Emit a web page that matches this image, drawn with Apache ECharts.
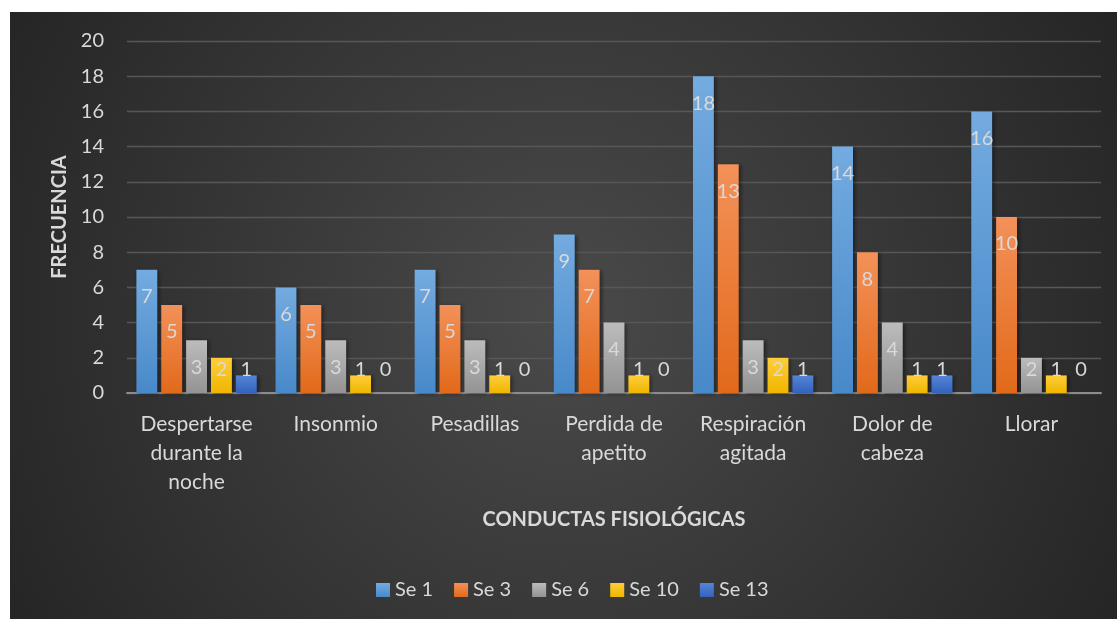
<!DOCTYPE html>
<html>
<head>
<meta charset="utf-8">
<script src="https://cdn.jsdelivr.net/npm/echarts@6/dist/echarts.min.js"></script>
<style>
  html, body { margin: 0; padding: 0; background: #ffffff; width: 1117px; height: 619px; overflow: hidden; }
  #chart { position: absolute; left: 10px; top: 12px; width: 1107px; height: 607px; }
</style>
</head>
<body>
<div id="chart"></div>
<script>
// Categories (conductas fisiológicas) and the frequency per session
const categories = [
  'Despertarse\ndurante la\nnoche',
  'Insonmio',
  'Pesadillas',
  'Perdida de\napetito',
  'Respiración\nagitada',
  'Dolor de\ncabeza',
  'Llorar'
];
const seriesNames = ['Se 1', 'Se 3', 'Se 6', 'Se 10', 'Se 13'];
const se1  = [7, 6, 7, 9, 18, 14, 16];
const se3  = [5, 5, 5, 7, 13, 8, 10];
const se6  = [3, 3, 3, 4, 3, 4, 2];
const se10 = [2, 1, 1, 1, 2, 1, 1];
const se13 = [1, 0, 0, 0, 1, 1, 0];
const yTicks = { min: 0, max: 20, interval: 2 };

// Vertical gradients for each series (light top, deeper bottom)
const palette = [
  ['#74abe0', '#4889c9'],
  ['#f39159', '#e2691a'],
  ['#bcbcbc', '#939393'],
  ['#ffcd3a', '#efb600'],
  ['#5585d6', '#3262bc']
];

const textColor = '#d9d9d9';
const fontFamily = 'Lato, "Open Sans", sans-serif';

function grad(c) {
  return new echarts.graphic.LinearGradient(0, 0, 0, 1, [
    { offset: 0, color: c[0] },
    { offset: 1, color: c[1] }
  ]);
}

// Labels sit just inside the top of the bar; short bars keep them at a fixed height above the base
function toData(values) {
  return values.map(v => v < 3
    ? { value: v, label: { position: 'insideBottom', distance: 13 } }
    : { value: v });
}

const allValues = [se1, se3, se6, se10, se13];

const chart = echarts.init(document.getElementById('chart'), null, { renderer: 'canvas' });

chart.setOption({
  animation: false,
  backgroundColor: new echarts.graphic.RadialGradient(0.5, 0.5, 1.05, [
    { offset: 0, color: '#4a4a4a' },
    { offset: 1, color: '#252525' }
  ]),
  textStyle: { fontFamily: fontFamily },
  grid: { left: 117, top: 29, width: 974, height: 352, containLabel: false },
  legend: {
    left: 361,
    top: 563,
    itemWidth: 14,
    itemHeight: 14,
    itemGap: 21,
    icon: 'rect',
    textStyle: { color: textColor, fontSize: 20, fontFamily: fontFamily },
    data: seriesNames
  },
  xAxis: {
    type: 'category',
    data: categories,
    name: 'CONDUCTAS FISIOLÓGICAS',
    nameLocation: 'middle',
    nameGap: 117,
    nameTextStyle: { color: textColor, fontSize: 20, fontWeight: 'bold', fontFamily: fontFamily },
    axisLine: { show: true, lineStyle: { color: '#8c8c8c', width: 2 } },
    axisTick: { show: false },
    axisLabel: {
      color: textColor,
      fontSize: 21,
      lineHeight: 29,
      margin: 17,
      interval: 0,
      fontFamily: fontFamily
    },
    splitLine: { show: false }
  },
  yAxis: {
    type: 'value',
    min: yTicks.min,
    max: yTicks.max,
    interval: yTicks.interval,
    name: 'FRECUENCIA',
    nameLocation: 'middle',
    nameGap: 57,
    nameTextStyle: { color: textColor, fontSize: 20, fontWeight: 'bold', fontFamily: fontFamily },
    axisLine: { show: false },
    axisTick: { show: false },
    axisLabel: { color: textColor, fontSize: 20, margin: 23, fontFamily: fontFamily },
    splitLine: { show: true, lineStyle: { color: '#575757', width: 1.3 } }
  },
  series: seriesNames.map((name, i) => ({
    name: name,
    type: 'bar',
    data: toData(allValues[i]),
    barGap: '19%',
    barCategoryGap: '13.5%',
    itemStyle: {
      color: grad(palette[i]),
      shadowColor: 'rgba(0,0,0,0.45)',
      shadowBlur: 4,
      shadowOffsetX: 2,
      shadowOffsetY: 1
    },
    label: {
      show: true,
      position: 'insideTop',
      distance: 17,
      color: textColor,
      fontSize: 20,
      fontFamily: fontFamily
    }
  }))
});
</script>
</body>
</html>
